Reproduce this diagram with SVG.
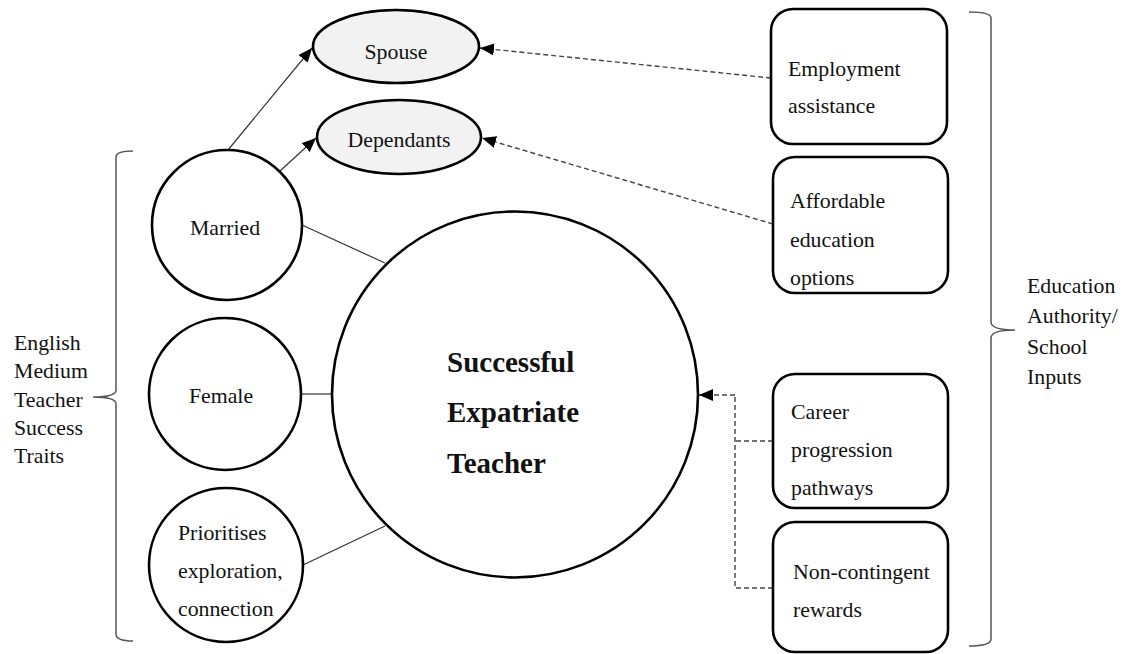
<svg xmlns="http://www.w3.org/2000/svg" width="1128" height="654" viewBox="0 0 1128 654">
<style>
text{font-family:"Liberation Serif","Times New Roman",serif;font-size:21.8px;fill:#111}
.b{font-weight:bold;font-size:29px}
.n{fill:#fff;stroke:#000;stroke-width:2.6}
.e{fill:#f2f2f2;stroke:#000;stroke-width:2.6}
.s{stroke:#333;stroke-width:1.2;fill:none}
.d{stroke:#444;stroke-width:1.4;fill:none;stroke-dasharray:5,3}
.br{stroke:#555;stroke-width:1.5;fill:none}
</style>
<defs>
<marker id="ah" markerWidth="14" markerHeight="12" refX="14" refY="6" orient="auto" markerUnits="userSpaceOnUse">
<path d="M0,0 L14,6 L0,12 Z" fill="#000"/>
</marker>
</defs>
<g id="connectors">
<line class="s" x1="228" y1="150" x2="312" y2="48" marker-end="url(#ah)"/>
<line class="s" x1="280" y1="171" x2="316" y2="138" marker-end="url(#ah)"/>
<line class="s" x1="302" y1="225" x2="385" y2="263"/>
<line class="s" x1="302" y1="394" x2="332" y2="394"/>
<line class="s" x1="303" y1="565" x2="385" y2="526"/>
<line class="d" x1="771" y1="78" x2="480" y2="48" marker-end="url(#ah)"/>
<line class="d" x1="773" y1="224" x2="482" y2="138" marker-end="url(#ah)"/>
<path class="d" d="M773,441 H735 M773,588 H735 V395"/>
<line class="d" x1="735" y1="395" x2="699" y2="395" marker-end="url(#ah)"/>
</g>
<g id="brace-left">
<path class="br" d="M133,151 Q116,151 116,157 L116,390 Q116,397 93,397 Q116,397 116,404 L116,634 Q116,641 133,641"/>
<text x="14" y="350">English</text>
<text x="14" y="378">Medium</text>
<text x="14" y="407">Teacher</text>
<text x="14" y="435">Success</text>
<text x="14" y="463">Traits</text>
</g>
<g id="brace-right">
<path class="br" d="M969,12 Q991,12 991,18 L991,322 Q991,330 1015,330 Q991,330 991,338 L991,639 Q991,646 969,646"/>
<text x="1027" y="293">Education</text>
<text x="1027" y="323">Authority/</text>
<text x="1027" y="354">School</text>
<text x="1027" y="384">Inputs</text>
</g>
<g id="spouse">
<ellipse class="e" cx="396" cy="46.5" rx="83" ry="36.5"/>
<text x="396" y="59" text-anchor="middle">Spouse</text>
</g>
<g id="dependants">
<ellipse class="e" cx="399" cy="137" rx="82" ry="37"/>
<text x="399" y="147" text-anchor="middle">Dependants</text>
</g>
<g id="married">
<circle class="n" cx="227" cy="225" r="75"/>
<text x="225" y="235" text-anchor="middle">Married</text>
</g>
<g id="female">
<circle class="n" cx="225" cy="394" r="76"/>
<text x="221" y="403" text-anchor="middle">Female</text>
</g>
<g id="prioritises">
<circle class="n" cx="226" cy="565" r="77"/>
<text x="178" y="540">Prioritises</text>
<text x="178" y="578">exploration,</text>
<text x="178" y="616">connection</text>
</g>
<g id="teacher">
<circle class="n" cx="515" cy="394.5" r="183"/>
<text class="b" x="447" y="372">Successful</text>
<text class="b" x="447" y="422">Expatriate</text>
<text class="b" x="447" y="473">Teacher</text>
</g>
<g id="employment">
<rect class="n" x="771" y="9" width="176" height="135" rx="22"/>
<text x="788" y="76">Employment</text>
<text x="788" y="113">assistance</text>
</g>
<g id="education">
<rect class="n" x="773" y="157" width="175" height="136" rx="22"/>
<text x="790" y="208">Affordable</text>
<text x="790" y="247">education</text>
<text x="790" y="285">options</text>
</g>
<g id="career">
<rect class="n" x="773" y="374" width="175" height="134" rx="22"/>
<text x="791" y="419">Career</text>
<text x="791" y="457">progression</text>
<text x="791" y="495">pathways</text>
</g>
<g id="rewards">
<rect class="n" x="773" y="522" width="175" height="130" rx="22"/>
<text x="793" y="579">Non-contingent</text>
<text x="793" y="617">rewards</text>
</g>
</svg>
